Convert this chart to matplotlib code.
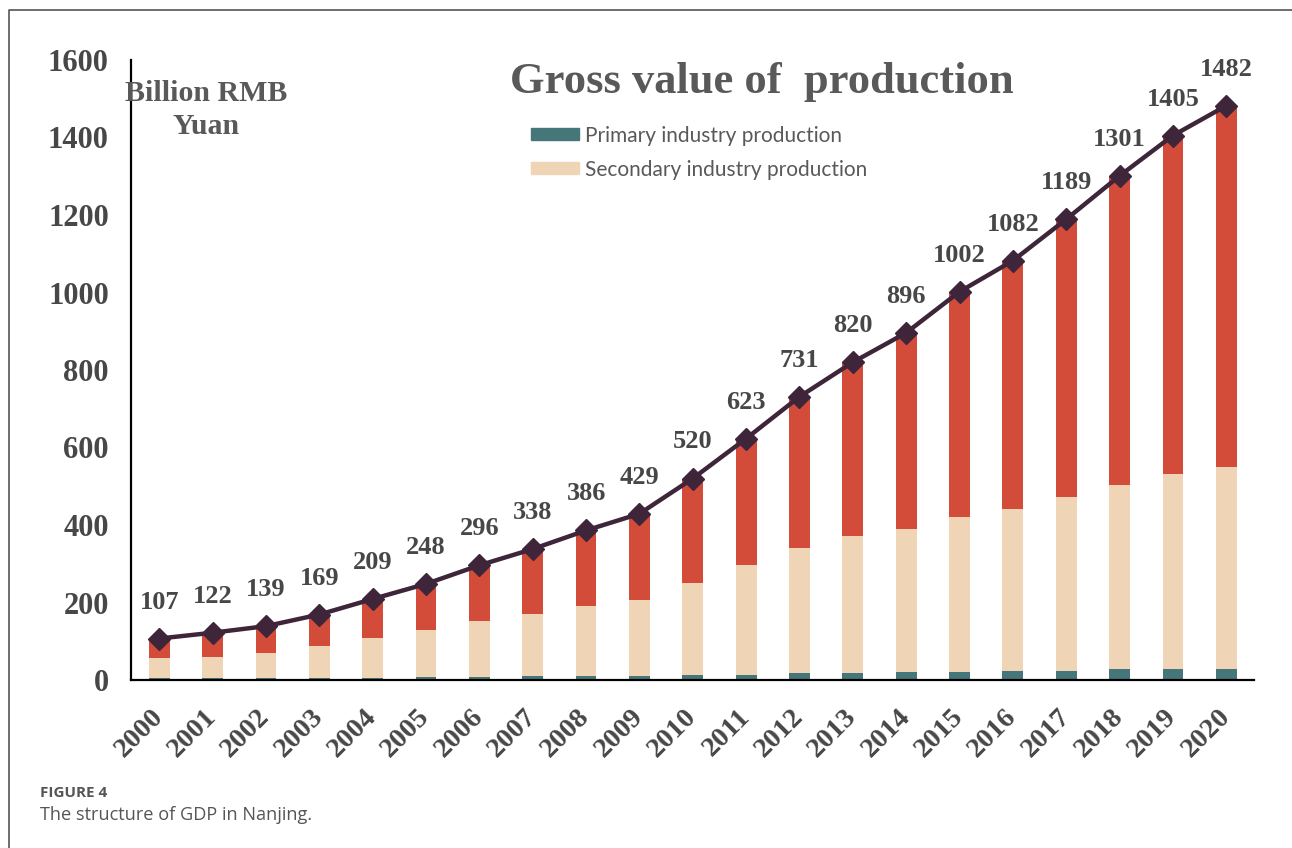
import numpy as np
import matplotlib
matplotlib.use("Agg")
import matplotlib.pyplot as plt
from matplotlib.patches import Patch
from matplotlib.lines import Line2D

# values (billion RMB yuan)
years = ["2000", "2001", "2002", "2003", "2004", "2005", "2006", "2007", "2008", "2009", "2010",
         "2011", "2012", "2013", "2014", "2015", "2016", "2017", "2018", "2019", "2020"]
primary = [4, 4, 5, 5, 6, 7, 8, 10, 10, 10, 12, 14, 17, 17, 21, 21, 24, 24, 28, 28, 29]
secondary = [53, 55, 65, 83, 102, 123, 143, 160, 181, 196, 238, 283, 324, 354, 369, 400, 418, 448, 475, 504, 521]
total = [107, 122, 139, 169, 209, 248, 296, 338, 386, 429, 520, 623, 731, 820, 896, 1002, 1082, 1189, 1301, 1405, 1482]
tertiary = [t - p - s for t, p, s in zip(total, primary, secondary)]
yticks = [0, 200, 400, 600, 800, 1000, 1200, 1400, 1600]

c_prim = "#457679"
c_sec = "#efd5b6"
c_ter = "#d34c3a"
c_line = "#3e2539"
c_text = "#474747"
serif = "Liberation Serif"

fig = plt.figure(figsize=(12.92, 8.48), dpi=100)
ax = fig.add_axes([131 / 1292, 1 - 680 / 848, (1254 - 131) / 1292, 620 / 848])

x = np.arange(len(years))
w = 0.39
ax.bar(x, primary, w, color=c_prim, zorder=2)
ax.bar(x, secondary, w, bottom=primary, color=c_sec, zorder=2)
bottom3 = [p + s for p, s in zip(primary, secondary)]
ax.bar(x, tertiary, w, bottom=bottom3, color=c_ter, zorder=2)
ax.plot(x, total, color=c_line, lw=3.2, marker="D", ms=11, zorder=3)

for xi, t in zip(x, total):
    ax.annotate(str(t), (xi, t), xytext=(0, 18), textcoords="offset points",
                ha="center", va="bottom", fontsize=19, fontweight="bold",
                family=serif, color=c_text)

ax.set_xlim(-0.53, 20.52)
ax.set_ylim(0, 1600)
ax.set_yticks(yticks)
ax.set_yticklabels([str(v) for v in yticks], fontsize=22, fontweight="bold",
                   family=serif, color=c_text)
ax.set_xticks(x)
ax.set_xticklabels(years, rotation=45, ha="right", va="center", rotation_mode="anchor",
                   fontsize=20.5, fontweight="bold", family=serif, color=c_text)
ax.tick_params(axis="y", length=0, pad=16)
ax.tick_params(axis="x", length=0, pad=24)
for s in ["top", "right"]:
    ax.spines[s].set_visible(False)
ax.spines["left"].set_linewidth(1.6)
ax.spines["bottom"].set_linewidth(1.6)

ax.text(0.0668, 0.919, "Billion RMB\nYuan", transform=ax.transAxes, ha="center",
        va="center", fontsize=21.5, fontweight="bold", family=serif, color="#595959",
        linespacing=1.3)
fig.text(0.59, 1 - 82 / 848, "Gross value of  production", ha="center", va="center",
         fontsize=32, fontweight="bold", family=serif, color="#595959")

handles = [Patch(color=c_prim), Patch(color=c_sec)]
ax.legend(handles, ["Primary industry production", "Secondary industry production"],
          loc="upper left", bbox_to_anchor=(0.356, 0.894), frameon=False,
          prop={"family": "Lato", "size": 15}, labelcolor="#595959",
          handlelength=2.3, handleheight=0.53, handletextpad=0.29,
          labelspacing=0.67, borderpad=0, borderaxespad=0)

# outer frame (top and left edges) and caption
fig.add_artist(Line2D([9 / 1292, 9 / 1292, 1], [0, 1 - 10 / 848, 1 - 10 / 848],
                      color="#555555", lw=1.2))
fig.text(40 / 1292, 1 - 793 / 848, "FIGURE 4", ha="left", va="center",
         fontsize=11, fontweight="bold", family="Open Sans", color="#555555")
fig.text(40 / 1292, 1 - 815 / 848, "The structure of GDP in Nanjing.", ha="left",
         va="center", fontsize=13.1, family="Open Sans", color="#555555")

fig.savefig("out.png", dpi=100)
